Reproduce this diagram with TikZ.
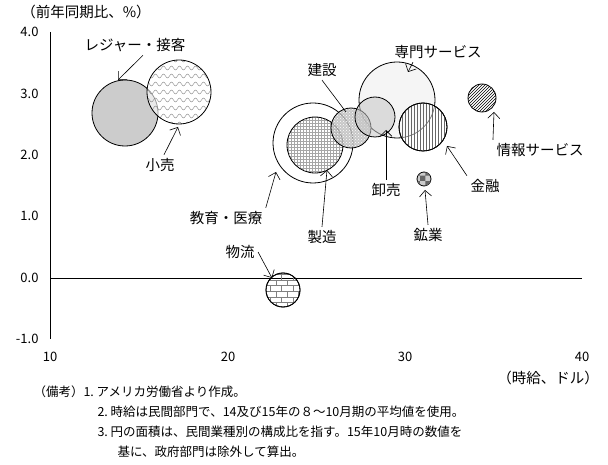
\documentclass[tikz,border=0pt]{standalone}
\usepackage{fontspec}
\setmainfont{Noto Sans CJK JP}
\usetikzlibrary{arrows.meta, patterns, decorations.pathmorphing}
\tikzset{
  bubble/.style={draw, thick},
  lbl/.style={font=\fontsize{14.5}{16}\selectfont},
  tick/.style={font=\fontsize{13}{15}\selectfont},
  note/.style={font=\fontsize{12.5}{14}\selectfont, anchor=west},
  ptr/.style={-{Straight Barb[length=6pt]}, semithick}
}
\begin{document}
\begin{tikzpicture}[x=1pt, y=-1pt]
  \useasboundingbox (0,0) rectangle (608,465);

  % axes
  \draw[semithick] (50,32) -- (50,339);
  \draw[semithick] (50,278) -- (582,278);
  \node[lbl] (ylab) at (86,12) {（前年同期比、\%）};
  \foreach \v/\y in {4.0/32, 3.0/94, 2.0/155, 1.0/216, 0.0/278, -1.0/339}
    \node[tick, anchor=east] (ytick) at (42,\y) {\v};
  \foreach \v/\x in {10/50, 20/228, 30/405, 40/582}
    \node[tick] (xtick) at (\x,357) {\v};
  \node[lbl] (xlab) at (548,378) {（時給、ドル）};

  % bubbles
  \draw[bubble, fill=white] (313,143) circle (40);
  \draw[bubble, fill=white, pattern=grid, pattern color=gray!70] (315,145) circle (28);
  \draw[bubble, fill=gray!8] (397,100) circle (38);
  \fill[gray!55, opacity=0.8] (351,128) circle (20);
  \fill[pattern=crosshatch dots, pattern color=white] (351,128) circle (20);
  \draw[bubble] (351,128) circle (20);
  \draw[bubble, fill=gray!45, fill opacity=0.55] (375,117) circle (20);
  \draw[bubble, fill=white, fill opacity=0.5] (423,127) circle (24);
  \fill[pattern=vertical lines, pattern color=gray!80!black] (423,127) circle (24);
  \draw[bubble] (423,127) circle (24);
  \draw[bubble, pattern=north east lines] (482,98) circle (14);
  \draw[bubble, fill=gray!40] (424,179) circle (7);
  \fill[pattern=checkerboard, pattern color=gray!80!black] (424,179) circle (7);
  \draw[bubble, fill=white, pattern=bricks, pattern color=gray] (283,290) circle (17);
  \draw[bubble] (283,290) circle (17);
  \draw[bubble, fill=gray!40] (125,113) circle (33);
  \begin{scope}
    \clip (179,92) circle (32);
    \fill[white, opacity=0.6] (179,92) circle (32);
    \foreach \y in {60,68,...,124}
      \draw[gray, decorate, decoration={snake, amplitude=2pt, segment length=8pt}] (145,\y) -- (215,\y);
  \end{scope}
  \draw[bubble] (179,92) circle (32);

  % labels and pointers
  \node[lbl] (leisure) at (135,45) {レジャー・接客};
  \node[lbl] (retail) at (160,165) {小売};
  \node[lbl] (build) at (322,70) {建設};
  \node[lbl] (prof) at (438,52) {専門サービス};
  \node[lbl] (info) at (540,150) {情報サービス};
  \node[lbl] (finance) at (485,186) {金融};
  \node[lbl] (whole) at (386,190) {卸売};
  \node[lbl] (mining) at (428,235) {鉱業};
  \node[lbl] (manuf) at (322,237) {製造};
  \node[lbl] (edu) at (226,218) {教育・医療};
  \node[lbl] (logis) at (240,252) {物流};
  \coordinate (leisureP) at (118,80);
  \coordinate (retailP) at (178,127);
  \coordinate (buildP) at (346,112);
  \coordinate (profP) at (408,72);
  \coordinate (infoP) at (494,112);
  \coordinate (financeP) at (447,146);
  \coordinate (wholeP) at (386,130);
  \coordinate (miningP) at (425,190);
  \coordinate (manufP) at (327,170);
  \coordinate (eduP) at (276,172);
  \coordinate (logisP) at (272,278);
  \draw[ptr] (leisure.south) ++(8,0) -- (leisureP);
  \draw[ptr] (retail.north) ++(4,0) -- (retailP);
  \draw[semithick] (build.south) -- (buildP);
  \draw[ptr] (prof.south west) ++(22,0) -- (profP);
  \draw[ptr] (info.north west) -- (infoP);
  \draw[ptr] (finance.north west) -- (financeP);
  \draw[ptr] (whole.north) -- (wholeP);
  \draw[ptr] (mining.north) -- (miningP);
  \draw[ptr] (manuf.north) -- (manufP);
  \draw[ptr] (edu.north east) -- (eduP);
  \draw[ptr] (logis.east) -- (logisP);

  % notes
  \node[note] (n1) at (30,392) {（備考）1.\ アメリカ労働省より作成。};
  \node[note] (n2) at (94,412) {2.\ 時給は民間部門で、14及び15年の８～10月期の平均値を使用。};
  \node[note] (n3) at (94,432) {3.\ 円の面積は、民間業種別の構成比を指す。15年10月時の数値を};
  \node[note] (n4) at (114,452) {基に、政府部門は除外して算出。};
\end{tikzpicture}
\end{document}
